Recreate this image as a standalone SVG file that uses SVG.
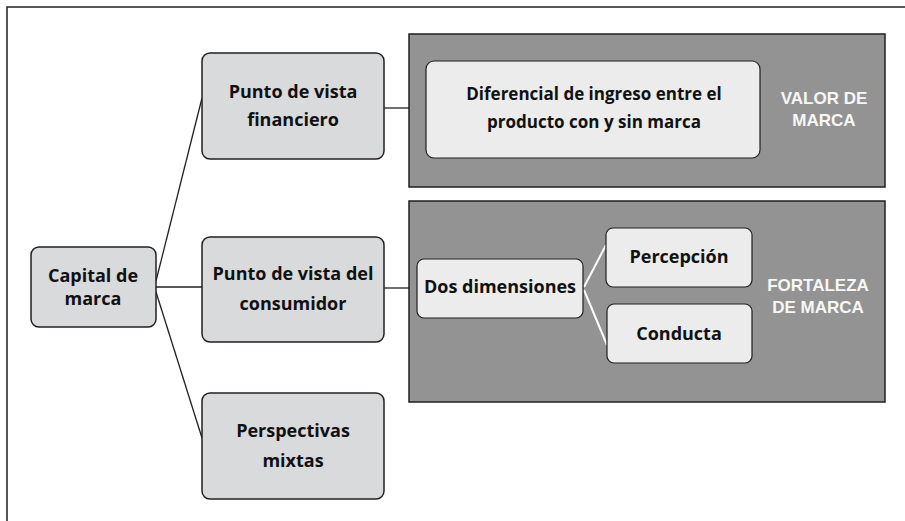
<svg xmlns="http://www.w3.org/2000/svg" width="905" height="521" viewBox="0 0 905 521">
<style>
.frame{fill:none;stroke:#231f20;stroke-width:1.5}
.panel{fill:#939393;stroke:#231f20;stroke-width:1.5}
.n1{fill:#d9dadb;stroke:#231f20;stroke-width:1.5}
.n2{fill:#ebeceb;stroke:#231f20;stroke-width:1.2}
.t{font-family:"Open Sans","Liberation Sans",sans-serif;font-weight:700;font-size:18px;fill:#111;text-anchor:middle}
.s{font-size:17px}
.w{font-family:"Liberation Sans",Arial,sans-serif;font-weight:700;font-size:17px;fill:#f7f7f7;text-anchor:middle}
.c{fill:none;stroke:#231f20;stroke-width:1.3}
.cw{fill:none;stroke:#ffffff;stroke-width:2}
</style>
<rect width="905" height="521" fill="#ffffff"/>
<path class="frame" d="M7,521 V7 H905"/>
<g id="panel-valor">
<rect class="panel" x="409" y="34" width="476" height="153"/>
<text class="w" x="824" y="104">VALOR DE</text>
<text class="w" x="824" y="126">MARCA</text>
</g>
<g id="panel-fortaleza">
<rect class="panel" x="409" y="201" width="476" height="201"/>
<text class="w" x="818" y="291">FORTALEZA</text>
<text class="w" x="818" y="313">DE MARCA</text>
</g>
<g id="connectors">
<path class="c" d="M156,281 L202,98"/>
<path class="c" d="M156,287 H202"/>
<path class="c" d="M156,292 L202,438"/>
<path class="c" d="M384,108 H409"/>
<path class="c" d="M384,288 H409"/>
<path class="cw" d="M584,287 L606,245"/>
<path class="cw" d="M584,290 L607,345"/>
</g>
<g id="capital">
<rect class="n1" x="31" y="247" width="125" height="80" rx="8"/>
<text class="t" x="93" y="282">Capital de</text>
<text class="t" x="93" y="305">marca</text>
</g>
<g id="financiero">
<rect class="n1" x="202" y="53" width="182" height="106" rx="8"/>
<text class="t" x="293" y="98">Punto de vista</text>
<text class="t" x="293" y="126">financiero</text>
</g>
<g id="consumidor">
<rect class="n1" x="202" y="237" width="182" height="105" rx="8"/>
<text class="t" x="293" y="280">Punto de vista del</text>
<text class="t" x="293" y="310">consumidor</text>
</g>
<g id="mixtas">
<rect class="n1" x="202" y="393" width="182" height="106" rx="8"/>
<text class="t" x="293" y="437">Perspectivas</text>
<text class="t" x="293" y="467">mixtas</text>
</g>
<g id="diferencial">
<rect class="n2" x="426" y="61" width="334" height="97" rx="8"/>
<text class="t s" x="594" y="100">Diferencial de ingreso entre el</text>
<text class="t s" x="594" y="128">producto con y sin marca</text>
</g>
<g id="dos-dimensiones">
<rect class="n2" x="417" y="259" width="166" height="59" rx="7"/>
<text class="t" x="500" y="293">Dos dimensiones</text>
</g>
<g id="percepcion">
<rect class="n2" x="606" y="228" width="146" height="59" rx="7"/>
<text class="t" x="679" y="263">Percepción</text>
</g>
<g id="conducta">
<rect class="n2" x="607" y="304" width="145" height="59" rx="7"/>
<text class="t" x="679" y="340">Conducta</text>
</g>
</svg>
